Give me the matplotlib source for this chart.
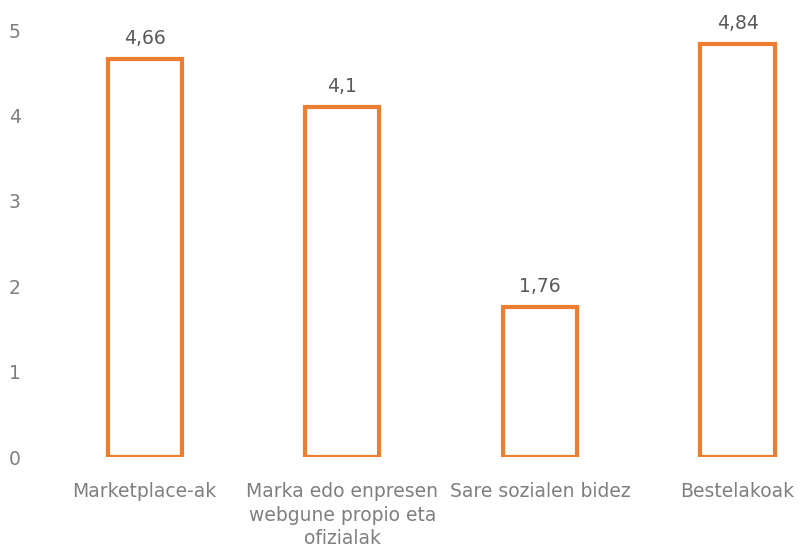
import matplotlib
matplotlib.use("Agg")
import matplotlib.pyplot as plt

# data
categories = ["Marketplace-ak", "Marka edo enpresen\nwebgune propio eta\nofizialak",
              "Sare sozialen bidez", "Bestelakoak"]
values = [4.66, 4.1, 1.76, 4.84]
value_labels = ["4,66", "4,1", "1,76", "4,84"]
yticks = [0, 1, 2, 3, 4, 5]

plt.rcParams["font.family"] = ["DejaVu Sans"]
grey = "#7f7f7f"
orange = "#ED7D31"

fig = plt.figure(figsize=(8, 5.56), dpi=100)
ax = fig.add_axes([0.045, 0.178, 0.951, 0.768])

x = range(len(categories))
ax.bar(x, values, width=0.375, facecolor="white", edgecolor=orange, linewidth=3)
for xi, v, lab in zip(x, values, value_labels):
    ax.text(xi, v + 0.13, lab, ha="center", va="bottom", fontsize=13.5, color="#595959")

ax.set_xlim(-0.55, 3.3)
ax.set_ylim(0, 5)
ax.set_yticks(yticks)
ax.set_yticklabels([str(t) for t in yticks])
ax.set_xticks(list(x))
ax.set_xticklabels(categories, linespacing=1.3)
ax.tick_params(axis="y", length=0, labelsize=13.5, labelcolor=grey, pad=11)
ax.tick_params(axis="x", length=0, labelsize=13.5, labelcolor=grey, pad=18)
for s in ax.spines.values():
    s.set_visible(False)

fig.savefig("out.png", dpi=100)
